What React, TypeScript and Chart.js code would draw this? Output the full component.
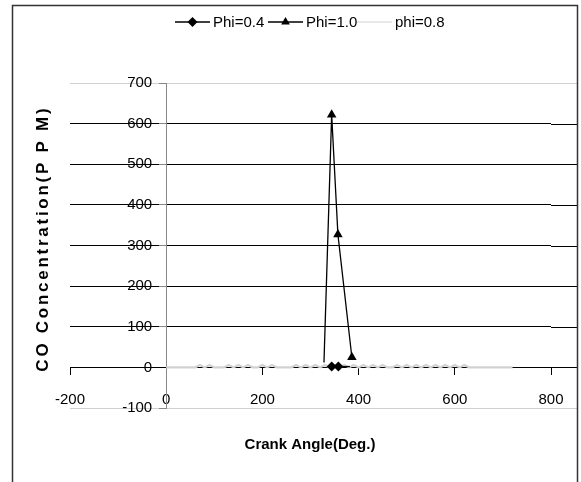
import React, { useEffect, useRef } from "react";
import { Chart, registerables } from "chart.js";

Chart.register(...registerables);

// ---- data ----
const seriesNames = ["Phi=0.4", "Phi=1.0", "phi=0.8"];
const phi04X = [344, 358, 382];
const phi04Y = [2, 2, 2];
const phi04Radius = [5, 5, 0];
const phi10X = [328, 344, 357, 386];
const phi10Y = [12, 622, 327, 25];
const phi10Radius = [0, 5.5, 5.5, 5.5];
const phi08X = [
  0, 10, 20, 30, 40, 50, 60, 70, 80, 90, 100, 110, 120, 130, 140, 150, 160, 170, 180, 190,
  200, 210, 220, 230, 240, 250, 260, 270, 280, 290, 300, 310, 320, 330, 340, 350, 360, 370, 380, 390,
  400, 410, 420, 430, 440, 450, 460, 470, 480, 490, 500, 510, 520, 530, 540, 550, 560, 570, 580, 590,
  600, 610, 620, 630, 640, 650, 660, 670, 680, 690, 700, 710, 720,
];
const phi08Y = [
  0, 0, 0, 0, 0, 0, 0, 6, 0, 6, 0, 0, 0, 6, 0, 6, 0, 6, 0, 0,
  6, 0, 6, 0, 0, 0, 0, 6, 0, 6, 0, 6, 0, 6, 0, 6, 0, 6, 0, 6,
  0, 6, 0, 6, 0, 6, 0, 0, 6, 0, 6, 0, 6, 0, 6, 0, 6, 0, 6, 0,
  6, 0, 6, 0, 0, 0, 0, 0, 0, 0, 0, 0, 0,
];
const xTicks = [-200, 0, 200, 400, 600, 800];
const yTicks = [-100, 0, 100, 200, 300, 400, 500, 600, 700];
const xTitle = "Crank Angle(Deg.)";
const yTitle = "CO Concentration(P P M)";

const FONT = "'Liberation Sans', Arial, sans-serif";

function drawMarker(ctx: CanvasRenderingContext2D, style: string, x: number, y: number, r: number) {
  ctx.beginPath();
  if (style === "rectRot") {
    ctx.moveTo(x, y - r);
    ctx.lineTo(x + r, y);
    ctx.lineTo(x, y + r);
    ctx.lineTo(x - r, y);
  } else if (style === "triangle") {
    ctx.moveTo(x, y - r);
    ctx.lineTo(x + r * 0.87, y + r * 0.5);
    ctx.lineTo(x - r * 0.87, y + r * 0.5);
  } else {
    return;
  }
  ctx.closePath();
  ctx.fill();
}

const decorPlugin = {
  id: "decor",
  beforeDraw(chart: any) {
    // shift y tick labels away from the crossing axis (label + tick gap)
    const items = chart.scales.y.getLabelItems();
    items.forEach((it: any) => {
      if (!it.__shifted) {
        it.options.translation[0] -= 14;
        it.__shifted = true;
      }
    });
  },
  beforeDatasetsDraw(chart: any) {
    // extend y gridlines to the right edge of the frame
    const ctx = chart.ctx as CanvasRenderingContext2D;
    const y = chart.scales.y;
    const area = chart.chartArea;
    ctx.save();
    ctx.lineWidth = 1;
    yTicks.forEach((v) => {
      const py = Math.round(y.getPixelForValue(v)) + 0.5;
      ctx.strokeStyle = v === 700 || v === -100 ? "#d0d0d0" : "#000";
      ctx.beginPath();
      ctx.moveTo(area.right, py);
      ctx.lineTo(577, py);
      ctx.stroke();
    });
    ctx.restore();
  },
  afterDraw(chart: any) {
    const ctx = chart.ctx as CanvasRenderingContext2D;
    ctx.save();
    // outer frame
    ctx.strokeStyle = "#333";
    ctx.lineWidth = 1.5;
    ctx.beginPath();
    ctx.moveTo(12.5, 520);
    ctx.lineTo(12.5, 5.5);
    ctx.lineTo(577.5, 5.5);
    ctx.lineTo(577.5, 520);
    ctx.stroke();

    // legend
    const sx = [175, 268, 357];
    const legendY = 22;
    ctx.font = `15px ${FONT}`;
    ctx.textBaseline = "middle";
    ctx.textAlign = "left";
    chart.data.datasets.forEach((ds: any, i: number) => {
      ctx.strokeStyle = ds.borderColor;
      ctx.fillStyle = ds.borderColor;
      ctx.lineWidth = i === 2 ? 1 : 1.3;
      ctx.beginPath();
      ctx.moveTo(sx[i], legendY);
      ctx.lineTo(sx[i] + 35, legendY);
      ctx.stroke();
      drawMarker(ctx, ds.pointStyle, sx[i] + 17.5, legendY, 5);
      ctx.fillStyle = "#000";
      ctx.fillText(seriesNames[i], sx[i] + 38, legendY + 1);
    });

    // x title
    ctx.font = `bold 15px ${FONT}`;
    ctx.textAlign = "center";
    ctx.textBaseline = "middle";
    ctx.fillStyle = "#000";
    ctx.fillText(xTitle, 310, 445);

    // y title (letter-spaced to span the same length as the original)
    ctx.translate(43, 240);
    ctx.rotate(-Math.PI / 2);
    ctx.font = `bold 17px ${FONT}`;
    (ctx as any).letterSpacing = "0px";
    const w = ctx.measureText(yTitle).width;
    const sp = Math.max(0, (266 - w) / yTitle.length);
    (ctx as any).letterSpacing = `${sp}px`;
    ctx.textAlign = "center";
    ctx.fillText(yTitle, sp / 2, 0);
    ctx.restore();
  },
};

export default function App() {
  const ref = useRef<HTMLCanvasElement | null>(null);

  useEffect(() => {
    document.body.style.margin = "0";
    const canvas = ref.current;
    if (!canvas) return;
    const chart = new Chart(canvas, {
      type: "line",
      data: {
        datasets: [
          {
            label: seriesNames[0],
            data: phi04X.map((x, i) => ({ x, y: phi04Y[i] })),
            borderColor: "#000",
            backgroundColor: "#000",
            borderWidth: 1.3,
            pointStyle: "rectRot",
            pointRadius: phi04Radius,
            pointBorderWidth: 0,
            tension: 0,
          },
          {
            label: seriesNames[1],
            data: phi10X.map((x, i) => ({ x, y: phi10Y[i] })),
            borderColor: "#000",
            backgroundColor: "#000",
            borderWidth: 1.3,
            pointStyle: "triangle",
            pointRadius: phi10Radius,
            pointBorderWidth: 0,
            tension: 0,
          },
          {
            label: seriesNames[2],
            data: phi08X.map((x, i) => ({ x, y: phi08Y[i] })),
            borderColor: "#d2d2d2",
            backgroundColor: "#d2d2d2",
            borderWidth: 2.2,
            pointStyle: "none",
            pointRadius: 0,
            tension: 0,
          },
        ],
      },
      options: {
        responsive: false,
        animation: false,
        layout: { padding: { left: 70, top: 83, right: 30, bottom: 74 } },
        plugins: {
          legend: { display: false },
          tooltip: { enabled: false },
          title: { display: false },
        },
        scales: {
          x: {
            type: "linear",
            min: -200,
            max: 800,
            position: { y: 0 } as any,
            afterBuildTicks: (s: any) => {
              s.ticks = xTicks.map((v) => ({ value: v }));
            },
            afterFit: (s: any) => {
              s.height = 0;
            },
            grid: {
              display: true,
              drawOnChartArea: false,
              drawTicks: true,
              tickLength: 7,
              tickColor: "#000",
              tickWidth: 1,
            },
            border: { display: true, color: "#000", width: 1 },
            ticks: {
              color: "#000",
              font: { family: FONT, size: 15 },
              padding: 16,
              maxRotation: 0,
              autoSkip: false,
            },
          },
          y: {
            type: "linear",
            min: -100,
            max: 700,
            position: { x: 0 } as any,
            afterBuildTicks: (s: any) => {
              s.ticks = yTicks.map((v) => ({ value: v }));
            },
            afterFit: (s: any) => {
              s.width = 0;
            },
            grid: {
              display: true,
              drawOnChartArea: true,
              drawTicks: true,
              tickLength: 7,
              tickColor: "#888",
              color: (c: any) =>
                c.tick && (c.tick.value === 700 || c.tick.value === -100) ? "#d0d0d0" : "#000",
              lineWidth: 1,
            },
            border: { display: true, color: "#888", width: 1 },
            ticks: {
              color: "#000",
              font: { family: FONT, size: 15 },
              padding: 7,
              autoSkip: false,
            },
          },
        },
      },
      plugins: [decorPlugin],
    } as any);
    return () => chart.destroy();
  }, []);

  return <canvas ref={ref} width={581} height={482} style={{ display: "block" }} />;
}
